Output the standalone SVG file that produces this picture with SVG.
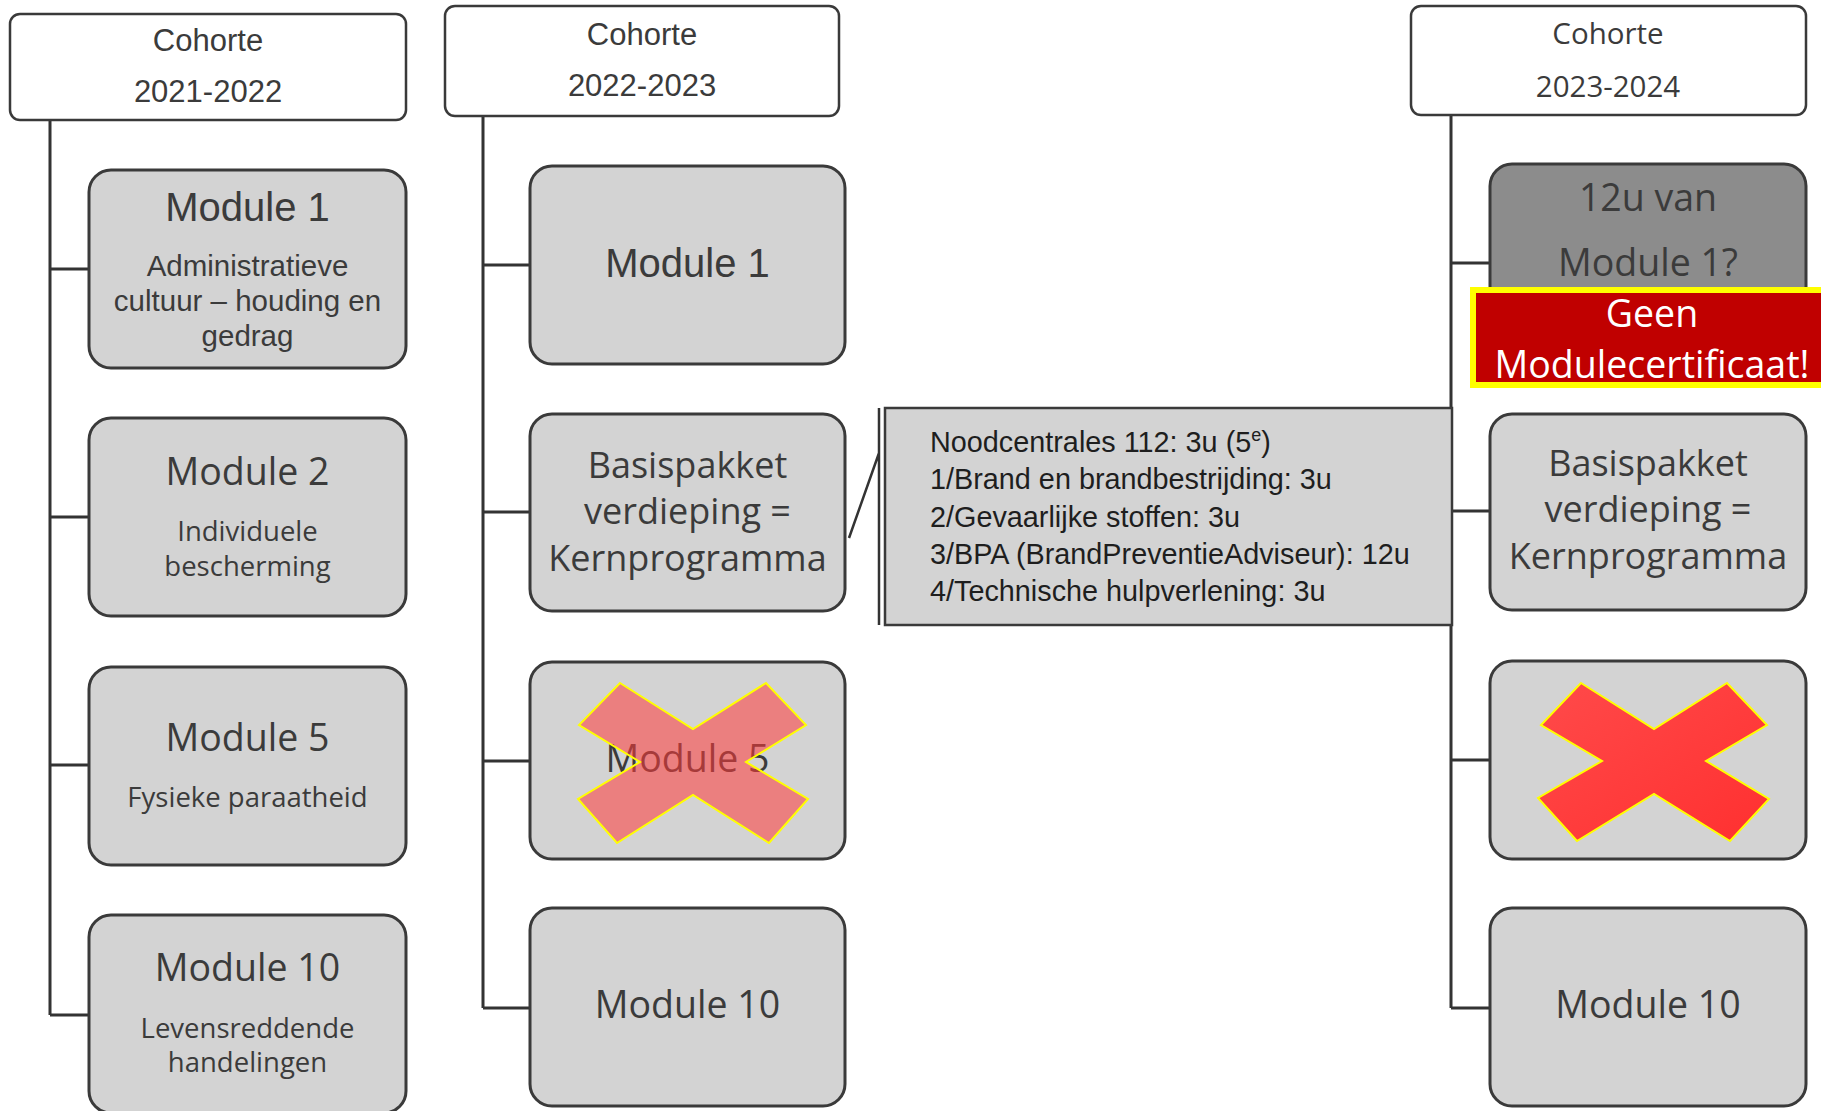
<svg xmlns="http://www.w3.org/2000/svg" width="1821" height="1111" viewBox="0 0 1821 1111">
<defs>
<style>
.hdr{fill:#ffffff;stroke:#3a3a3a;stroke-width:2.5}
.box{fill:#d3d3d3;stroke:#3a3a3a;stroke-width:3}
.ln{stroke:#333333;stroke-width:3;fill:none}
.t{fill:#3b3b3b;text-anchor:middle}
.ls{font-family:"Liberation Sans",Arial,sans-serif}
.os{font-family:"Open Sans","Noto Sans",sans-serif}
.xs{stroke:#ffff00;stroke-width:2;stroke-linejoin:miter}
</style>
<linearGradient id="xg" x1="0" y1="0" x2="1" y2="1">
<stop offset="0" stop-color="#ff4a4a"/>
<stop offset="1" stop-color="#ff3030"/>
</linearGradient>
</defs>

<g id="connectors">
<path class="ln" d="M50,120 V1015 M50,269 H89 M50,517 H89 M50,765 H89 M50,1015 H89"/>
<path class="ln" d="M483,116 V1008 M483,265 H530 M483,512 H530 M483,761 H530 M483,1008 H530"/>
<path class="ln" d="M1451,115 V1008 M1451,263 H1490 M1451,511 H1490 M1451,760 H1490 M1451,1008 H1490"/>
<path class="ln" d="M849,538 L879,453 M879,408 V625" style="stroke-width:2.5"/>
</g>

<g id="hdr1"><rect class="hdr" x="10" y="14" width="396" height="106" rx="10"/>
<text class="t ls" x="208" y="51" font-size="31">Cohorte</text>
<text class="t ls" x="208" y="102" font-size="31">2021-2022</text></g>

<g id="hdr2"><rect class="hdr" x="445" y="6" width="394" height="110" rx="10"/>
<text class="t ls" x="642" y="45" font-size="31">Cohorte</text>
<text class="t ls" x="642" y="96" font-size="31">2022-2023</text></g>

<g id="hdr3"><rect class="hdr" x="1411" y="6" width="395" height="109" rx="10"/>
<text class="t os" x="1608" y="44" font-size="29.5">Cohorte</text>
<text class="t os" x="1608" y="97" font-size="29.5">2023-2024</text></g>

<g id="c1m1"><rect class="box" x="89" y="170" width="317" height="198" rx="22"/>
<text class="t ls" x="247.5" y="221" font-size="40">Module 1</text>
<text class="t ls" x="247.5" y="276" font-size="29.5">Administratieve</text>
<text class="t ls" x="247.5" y="311" font-size="29.5">cultuur – houding en</text>
<text class="t ls" x="247.5" y="346" font-size="29.5">gedrag</text></g>

<g id="c1m2"><rect class="box" x="89" y="418" width="317" height="198" rx="22"/>
<text class="t os" x="247.5" y="485" font-size="37.5">Module 2</text>
<text class="t os" x="247.5" y="541" font-size="27.5">Individuele</text>
<text class="t os" x="247.5" y="576" font-size="27.5">bescherming</text></g>

<g id="c1m5"><rect class="box" x="89" y="667" width="317" height="198" rx="22"/>
<text class="t os" x="247.5" y="751" font-size="37.5">Module 5</text>
<text class="t os" x="247.5" y="807" font-size="27.5">Fysieke paraatheid</text></g>

<g id="c1m10"><rect class="box" x="89" y="915" width="317" height="198" rx="22"/>
<text class="t os" x="247.5" y="981" font-size="37.5">Module 10</text>
<text class="t os" x="247.5" y="1038" font-size="27.5">Levensreddende</text>
<text class="t os" x="247.5" y="1072" font-size="27.5">handelingen</text></g>

<g id="c2m1"><rect class="box" x="530" y="166" width="315" height="198" rx="22"/>
<text class="t ls" x="687.5" y="277" font-size="40">Module 1</text></g>

<g id="c2bp"><rect class="box" x="530" y="414" width="315" height="197" rx="22"/>
<text class="t os" x="687.5" y="478" font-size="36">Basispakket</text>
<text class="t os" x="687.5" y="524" font-size="36">verdieping =</text>
<text class="t os" x="687.5" y="571" font-size="36">Kernprogramma</text></g>

<g id="c2m5"><rect class="box" x="530" y="662" width="315" height="197" rx="22"/>
<text class="t os" x="687.5" y="772" font-size="37.5">Module 5</text>
<polygon class="xs" fill="#ff3b3b" fill-opacity="0.55" points="620,683 693,729 766,683 806,725 746,762 808,799 769,843 693,795 617,843 578,799 640,762 579,725"/></g>

<g id="c2m10"><rect class="box" x="530" y="908" width="315" height="198" rx="22"/>
<text class="t os" x="687.5" y="1018" font-size="37.5">Module 10</text></g>

<g id="callout"><rect x="885" y="408" width="567" height="217" fill="#d3d3d3" stroke="#3a3a3a" stroke-width="2.5"/>
<text class="ls" fill="#1e1e1e" font-size="28.8" x="930">
<tspan x="930" y="452">Noodcentrales 112: 3u (5<tspan font-size="18" dy="-11">e</tspan><tspan dy="11">)</tspan></tspan>
<tspan x="930" y="489">1/Brand en brandbestrijding: 3u</tspan>
<tspan x="930" y="527">2/Gevaarlijke stoffen: 3u</tspan>
<tspan x="930" y="564">3/BPA (BrandPreventieAdviseur): 12u</tspan>
<tspan x="930" y="601">4/Technische hulpverlening: 3u</tspan>
</text></g>

<g id="c3m1"><rect class="box" x="1490" y="164" width="316" height="198" rx="22" style="fill:#8c8c8c"/>
<text class="t os" x="1648" y="211" font-size="37.5">12u van</text>
<text class="t os" x="1648" y="276" font-size="37.5">Module 1?</text></g>

<g id="c3warn"><rect x="1473" y="290" width="360" height="95" fill="#c00000" stroke="#ffff00" stroke-width="6"/>
<text class="os" text-anchor="middle" fill="#ffffff" x="1652" y="327" font-size="37.5">Geen</text>
<text class="os" text-anchor="middle" fill="#ffffff" x="1652" y="378" font-size="37.5">Modulecertificaat!</text></g>

<g id="c3bp"><rect class="box" x="1490" y="414" width="316" height="196" rx="22"/>
<text class="t os" x="1648" y="476" font-size="36">Basispakket</text>
<text class="t os" x="1648" y="522" font-size="36">verdieping =</text>
<text class="t os" x="1648" y="569" font-size="36">Kernprogramma</text></g>

<g id="c3x"><rect class="box" x="1490" y="661" width="316" height="198" rx="22"/>
<polygon class="xs" fill="url(#xg)" points="1581,683 1654,729 1727,683 1767,725 1706,761 1769,799 1730,841 1654,794 1577,841 1538,798 1602,761 1541,725"/></g>

<g id="c3m10"><rect class="box" x="1490" y="908" width="316" height="198" rx="22"/>
<text class="t os" x="1648" y="1018" font-size="37.5">Module 10</text></g>
</svg>
